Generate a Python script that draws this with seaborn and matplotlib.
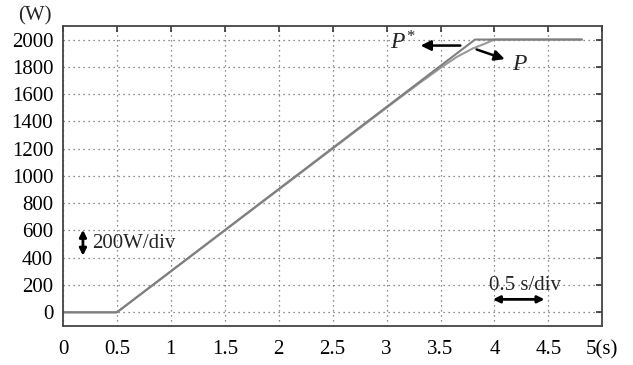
import matplotlib
matplotlib.use("Agg")
import matplotlib.pyplot as plt
import seaborn as sns
import pandas as pd

# Power reference P* and measured power P (W) versus time (s)
t_ref = [0.0, 0.5, 3.82, 4.81]
p_ref = [0, 0, 2000, 2000]

t_meas = [0.0, 0.5, 1.0, 1.5, 2.0, 2.5, 3.0, 3.3, 3.5, 3.65, 3.8, 3.9, 3.96, 4.0, 4.81]
p_meas = [0, 0, 300, 600, 900, 1200, 1500, 1678, 1792, 1872, 1935, 1966, 1987, 2000, 2000]

x_ticks = [0, 0.5, 1, 1.5, 2, 2.5, 3, 3.5, 4, 4.5, 5]
x_labels = ["0", "0.5", "1", "1.5", "2", "2.5", "3", "3.5", "4", "4.5", "5(s)"]
y_ticks = [0, 200, 400, 600, 800, 1000, 1200, 1400, 1600, 1800, 2000]

df = pd.concat([
    pd.DataFrame({"t": t_meas, "p": p_meas, "series": "P"}),
    pd.DataFrame({"t": t_ref, "p": p_ref, "series": "P*"}),
])

sns.set_theme(style="white")
plt.rcParams["font.family"] = "serif"
plt.rcParams["font.serif"] = ["Liberation Serif", "DejaVu Serif"]
plt.rcParams["mathtext.fontset"] = "custom"
plt.rcParams["mathtext.it"] = "Liberation Serif:italic"
plt.rcParams["mathtext.rm"] = "Liberation Serif"

FS = 15

fig = plt.figure(figsize=(6.33, 3.65), dpi=100)
ax = fig.add_axes([0.0995, 0.107, 0.852, 0.822])

sns.lineplot(data=df, x="t", y="p", hue="series", sort=False,
             palette={"P": "#9a9a9a", "P*": "#7f7f7f"},
             linewidth=1.5, legend=False, ax=ax)

ax.set_xlim(0, 5)
ax.set_ylim(-100, 2100)
ax.set_xticks(x_ticks)
ax.set_xticklabels(x_labels)
ax.set_yticks(y_ticks)
ax.set_xlabel("")
ax.set_ylabel("")
ax.tick_params(direction="in", length=4, width=1.2, colors="#333333",
               labelcolor="black", labelsize=FS, top=True, right=True)
ax.tick_params(axis="x", pad=10)
ax.tick_params(axis="y", pad=7)
ax.grid(True, linestyle=(0, (1, 3)), color="#666666", linewidth=0.9)
for s in ax.spines.values():
    s.set_color("#444444")
    s.set_linewidth(1.3)

ax.text(-0.052, 1.0, "(W)", transform=ax.transAxes, fontsize=FS,
        ha="center", va="bottom")

# Curve labels with arrows
ax.annotate("", xy=(3.29, 1956), xytext=(3.71, 1956),
            arrowprops=dict(arrowstyle="-|>", color="black", lw=1.8,
                            mutation_scale=15))
ax.text(3.27, 1975, r"$P^{*}$", fontsize=17, ha="right", va="center")
ax.annotate("", xy=(4.12, 1850), xytext=(3.81, 1934),
            arrowprops=dict(arrowstyle="-|>", color="black", lw=1.8,
                            mutation_scale=15))
ax.text(4.16, 1820, r"$P$", fontsize=17, ha="left", va="center")

# Scale markers
ax.annotate("", xy=(0.185, 625), xytext=(0.185, 395),
            arrowprops=dict(arrowstyle="<|-|>", color="black", lw=2.0,
                            mutation_scale=10))
ax.text(0.27, 505, "200W/div", fontsize=FS, ha="left", va="center")
ax.annotate("", xy=(3.96, 95), xytext=(4.49, 95),
            arrowprops=dict(arrowstyle="<|-|>", color="black", lw=2.0,
                            mutation_scale=10))
ax.text(4.28, 195, "0.5 s/div", fontsize=FS, ha="center", va="center")

fig.savefig("out.png", dpi=100)
